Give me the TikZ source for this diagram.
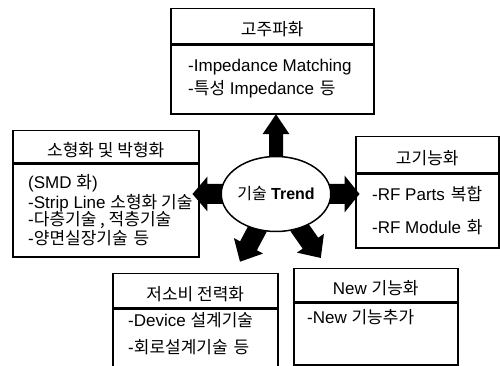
\documentclass[tikz,border=0pt]{standalone}
\usepackage{fontspec}
\setmainfont{Liberation Sans}
\newfontfamily\krfont{Noto Sans CJK KR}
\newcommand{\kr}[1]{{\krfont #1}}
\newcommand{\wgap}{\hspace{0.35em}}
\usetikzlibrary{positioning,shapes.geometric,backgrounds}

\tikzset{
  boxline/.style={draw=black, line width=1.5pt},
  headbox/.style={boxline, anchor=north west, inner sep=0pt},
  bodybox/.style={boxline, anchor=north west, inner sep=0pt},
  title/.style={font=\fontsize{17}{19}\selectfont, inner sep=0pt, yshift=-3pt},
  item/.style={font=\fontsize{17}{19}\selectfont, inner sep=0pt, anchor=west},
  trendnode/.style={ellipse, boxline, fill=white, minimum width=92pt,
    minimum height=75pt, inner sep=0pt, font=\fontsize{16}{18}\selectfont},
  pics/blockarrow/.style args={#1/#2/#3/#4}{code={
    \fill[black] (-3,-#4) -- (#1-#2,-#4) -- (#1-#2,-#3) -- (#1,0)
      -- (#1-#2,#3) -- (#1-#2,#4) -- (-3,#4) -- cycle;
  }},
}

\begin{document}
\begin{tikzpicture}[x=1pt,y=1pt]
  \useasboundingbox (0,0) rectangle (500,366);
  % centre ellipse
  \node[trendnode] (trend) at (276,172) {\kr{기술} \textbf{Trend}};
  % block arrows out of the centre
  \begin{scope}[on background layer]
    \pic[rotate=90] at (trend.90) {blockarrow=41.5/20/13.5/7};
    \pic[rotate=0] at (trend.0) {blockarrow=28/15/18.5/10};
    \pic[rotate=180] at (trend.180) {blockarrow=28/15/17.5/10};
    \pic[rotate=242] at (trend.242) {blockarrow=36/18/16.5/9.5};
    \pic[rotate=305] at (trend.305) {blockarrow=36/18/16.5/9.5};
  \end{scope}

  % top box
  \node[headbox, minimum width=203pt, minimum height=35pt] (hfHead) at (170,358) {};
  \node[bodybox, minimum width=203pt, minimum height=69pt] (hfBody) at (hfHead.south west) {};
  \node[title] (hfTitle) at (hfHead.center) {\kr{고주파화}};
  \node[item] (hfA) at (188,299) {-Impedance Matching};
  \node[item] (hfB) at (188,277) {-\kr{특성} Impedance\wgap\kr{등}};

  % left box
  \node[headbox, minimum width=186pt, minimum height=32pt] (smHead) at (12,236) {};
  \node[bodybox, minimum width=186pt, minimum height=93pt] (smBody) at (smHead.south west) {};
  \node[title] (smTitle) at (smHead.center) {\kr{소형화 및 박형화}};
  \node[item] (smA) at (28,183) {(SMD \kr{화})};
  \node[item] (smB) at (28,163) {-Strip Line \kr{소형화 기술}};
  \node[item] (smC) at (28,146) {-\kr{다층기술 , 적층기술}};
  \node[item] (smD) at (28,128) {-\kr{양면실장기술\wgap 등}};

  % right box
  \node[headbox, minimum width=143pt, minimum height=36pt] (hiHead) at (355,230) {};
  \node[bodybox, minimum width=143pt, minimum height=74pt] (hiBody) at (hiHead.south west) {};
  \node[title] (hiTitle) at (hiHead.center) {\kr{고기능화}};
  \node[item] (hiA) at (372,172) {-RF Parts\wgap\kr{복합}};
  \node[item] (hiB) at (372,139) {-RF Module\wgap\kr{화}};

  % bottom left box
  \node[headbox, minimum width=165pt, minimum height=34pt] (lpHead) at (112,93) {};
  \node[bodybox, minimum width=165pt, minimum height=58pt] (lpBody) at (lpHead.south west) {};
  \node[title] (lpTitle) at (lpHead.center) {\kr{저소비 전력화}};
  \node[item] (lpA) at (128,46) {-Device \kr{설계기술}};
  \node[item] (lpB) at (128,19) {-\kr{회로설계기술\wgap 등}};

  % bottom right box
  \node[headbox, minimum width=164pt, minimum height=33pt] (nfHead) at (293,98) {};
  \node[bodybox, minimum width=164pt, minimum height=62pt] (nfBody) at (nfHead.south west) {};
  \node[title] (nfTitle) at (nfHead.center) {New \kr{기능화}};
  \node[item] (nfA) at (307,49) {-New \kr{기능추가}};
\end{tikzpicture}
\end{document}
